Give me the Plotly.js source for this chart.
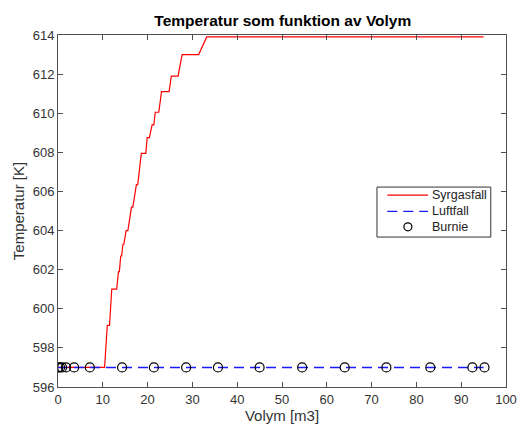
<!DOCTYPE html>
<html>
<head>
<meta charset="utf-8">
<script src="https://cdn.plot.ly/plotly-3.0.1.min.js"></script>
<style>
  html, body { margin: 0; padding: 0; background: #ffffff; }
  #chart { width: 517px; height: 427px; }
</style>
</head>
<body>
<div id="chart"></div>
<script>
// Syrgasfall: temperature vs volume (stepped rise, then plateau)
const syrgasVolym = [0, 10.4, 11.0, 11.5, 12.0, 13.1, 13.5, 13.7, 14.0, 14.2, 14.5, 14.7, 15.2, 15.6, 16.4, 16.7, 17.5, 17.8, 18.6, 19.6, 19.9, 20.4, 21.0, 21.4, 21.7, 22.5, 23.1, 24.8, 25.3, 26.8, 27.7, 31.4, 33.2, 95];
const syrgasTemp  = [597, 597, 599.15, 599.15, 601.0, 601.0, 601.9, 601.9, 602.7, 602.7, 603.3, 603.3, 604.0, 604.0, 605.2, 605.2, 606.35, 606.35, 607.95, 607.95, 608.75, 608.75, 609.4, 609.4, 610.05, 610.05, 611.1, 611.1, 611.9, 611.9, 613.0, 613.0, 613.9, 613.9];

// Luftfall: constant temperature
const luftVolym = [0, 95];
const luftTemp  = [597, 597];

// Burnie: sampled points
const burnieVolym = [0, 0.45, 0.9, 1.8, 3.6, 7.1, 14.3, 21.4, 28.6, 35.7, 45.0, 54.5, 64.0, 73.3, 83.1, 92.5, 95.2];
const burnieTemp  = [597, 597, 597, 597, 597, 597, 597, 597, 597, 597, 597, 597, 597, 597, 597, 597, 597];

const seriesNames = ['Syrgasfall', 'Luftfall', 'Burnie'];

const xTicks = [0, 10, 20, 30, 40, 50, 60, 70, 80, 90, 100];
const yTicks = [596, 598, 600, 602, 604, 606, 608, 610, 612, 614];

const axisColor = '#505050';
const textColor = '#333333';
const font = 'Liberation Sans, Arial, sans-serif';

const redLine  = { color: '#ff0000', width: 1.2 };
const blueLine = { color: '#1a1aff', width: 1.4, dash: '10px,6px' };
const circleStyle = { width: 1.2, color: '#000000' };

const traces = [
  { x: syrgasVolym, y: syrgasTemp, name: seriesNames[0], mode: 'lines', line: redLine },
  { x: luftVolym, y: luftTemp, name: seriesNames[1], mode: 'lines', line: blueLine },
  {
    x: burnieVolym, y: burnieTemp, name: seriesNames[2], mode: 'markers',
    marker: { symbol: 'circle-open', size: 9, color: '#000000', line: circleStyle }
  }
];

const axisCommon = {
  showgrid: false, zeroline: false,
  showline: true, linecolor: axisColor, linewidth: 1, mirror: 'ticks',
  ticks: 'inside', ticklen: 5, tickwidth: 1, tickcolor: axisColor,
  tickfont: { family: font, size: 13, color: textColor }
};

// Boxed legend in the upper right of the plot area (paper coordinates)
const legBox = { x0: 0.712, x1: 0.966, y0: 0.426, y1: 0.568 };
const legRows = [0.545, 0.499, 0.455];
const legSample = { x0: 0.735, x1: 0.826, mid: 0.781, text: 0.831 };

const shapes = [
  {
    type: 'rect', xref: 'paper', yref: 'paper',
    x0: legBox.x0, x1: legBox.x1, y0: legBox.y0, y1: legBox.y1,
    line: { color: '#333333', width: 1 }, fillcolor: '#ffffff', layer: 'above'
  },
  {
    type: 'line', xref: 'paper', yref: 'paper',
    x0: legSample.x0, x1: legSample.x1, y0: legRows[0], y1: legRows[0],
    line: redLine, layer: 'above'
  },
  {
    type: 'line', xref: 'paper', yref: 'paper',
    x0: legSample.x0, x1: legSample.x1, y0: legRows[1], y1: legRows[1],
    line: blueLine, layer: 'above'
  },
  {
    type: 'circle', xref: 'paper', yref: 'paper',
    xsizemode: 'pixel', ysizemode: 'pixel',
    xanchor: legSample.mid, yanchor: legRows[2],
    x0: -4, x1: 4, y0: -4, y1: 4,
    line: circleStyle, layer: 'above'
  }
];

const annotations = seriesNames.map((name, i) => ({
  xref: 'paper', yref: 'paper', x: legSample.text, y: legRows[i],
  xanchor: 'left', yanchor: 'middle', showarrow: false,
  text: name, font: { family: font, size: 12.5, color: '#222222' }
}));

const layout = {
  width: 517, height: 427,
  margin: { l: 58, r: 11, t: 35, b: 40 },
  paper_bgcolor: '#ffffff', plot_bgcolor: '#ffffff',
  font: { family: font, color: textColor },
  showlegend: false,
  title: {
    text: '<b>Temperatur som funktion av Volym</b>',
    font: { family: font, size: 15.5, color: '#000000' },
    x: 0.547, xanchor: 'center', y: 0.951, yanchor: 'middle'
  },
  xaxis: Object.assign({}, axisCommon, {
    range: [0, 100], tickvals: xTicks,
    title: { text: 'Volym [m3]', font: { family: font, size: 15, color: textColor }, standoff: 2 }
  }),
  yaxis: Object.assign({}, axisCommon, {
    range: [596, 614], tickvals: yTicks,
    title: { text: 'Temperatur [K]', font: { family: font, size: 15, color: textColor }, standoff: 4 }
  }),
  shapes: shapes,
  annotations: annotations
};

Plotly.newPlot('chart', traces, layout, { displayModeBar: false, staticPlot: true });
</script>
</body>
</html>
